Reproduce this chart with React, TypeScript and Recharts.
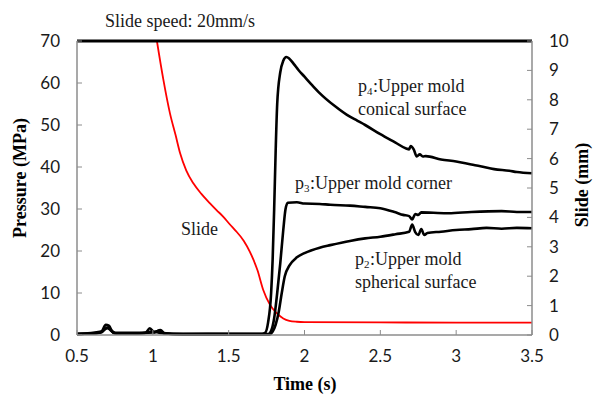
import React from "react";
import { LineChart, Line, XAxis, YAxis, ReferenceLine } from "recharts";

// Pressure p4 (upper mold conical surface)
const p4Time = [0.5, 0.6, 0.65, 0.7, 0.75, 0.9, 1.0, 1.05, 1.2, 1.5, 1.72, 1.74, 1.76, 1.78, 1.79, 1.8, 1.81, 1.82, 1.84, 1.86, 1.88, 1.9, 1.93, 1.96, 2.0, 2.05, 2.1, 2.2, 2.28, 2.35, 2.4, 2.5, 2.6, 2.67, 2.69, 2.7, 2.72, 2.74, 2.76, 2.78, 2.8, 2.9, 3.0, 3.1, 3.16, 3.25, 3.35, 3.4, 3.5];
const p4Values = [0.3, 0.3, 0.6, 1.6, 0.4, 0.3, 0.8, 0.5, 0.2, 0.3, 0.3, 0.5, 3, 10, 18, 30, 44, 55, 62.5, 65.3, 66.2, 65.8, 64.5, 63.1, 61.5, 59.5, 57.6, 54.5, 52.4, 51, 50, 47.8, 45.8, 44.4, 44.2, 45, 44.2, 42.5, 43, 42.5, 42.6, 41.8, 41.3, 40.6, 40.2, 39.5, 39.1, 38.8, 38.5];

// Pressure p3 (upper mold corner)
const p3Time = [0.5, 0.66, 0.69, 0.71, 0.74, 0.95, 0.98, 1.01, 1.05, 1.08, 1.76, 1.78, 1.8, 1.82, 1.84, 1.86, 1.875, 1.89, 1.95, 2.0, 2.1, 2.17, 2.3, 2.4, 2.5, 2.6, 2.65, 2.69, 2.71, 2.73, 2.75, 2.77, 2.85, 2.95, 3.1, 3.3, 3.4, 3.5];
const p3Values = [0.2, 0.8, 2.4, 2.2, 0.5, 0.5, 1.6, 0.6, 1.2, 0.3, 0.2, 1, 4, 10, 17, 25, 30, 31.5, 31.6, 31.3, 31.2, 31, 30.8, 30.5, 30.2, 29.2, 28.6, 28.3, 27.5, 28.8, 28.6, 29.2, 29.1, 29, 29.3, 29.5, 29.3, 29.3];

// Pressure p2 (upper mold spherical surface)
const p2Time = [0.5, 0.66, 0.7, 0.73, 0.76, 1.0, 1.04, 1.07, 1.2, 1.77, 1.79, 1.81, 1.83, 1.85, 1.87, 1.9, 1.95, 2.0, 2.1, 2.17, 2.3, 2.4, 2.5, 2.6, 2.69, 2.71, 2.73, 2.75, 2.77, 2.79, 2.81, 2.9, 3.0, 3.1, 3.2, 3.3, 3.4, 3.5];
const p2Values = [0.2, 0.6, 1.8, 1.0, 0.3, 0.6, 1.0, 0.4, 0.1, 0.1, 0.8, 2.5, 5.5, 10, 14, 16.5, 18.5, 19.5, 20.8, 21.4, 22.4, 23, 23.4, 24, 24.6, 26.3, 24.5, 23.8, 25.2, 23.8, 24.3, 24.6, 25, 25.2, 25.5, 25.3, 25.5, 25.4];

// Slide displacement (mm, right axis)
const slideTime = [1.0, 1.027, 1.07, 1.113, 1.15, 1.18, 1.22, 1.267, 1.32, 1.377, 1.42, 1.465, 1.51, 1.542, 1.6, 1.64, 1.69, 1.728, 1.77, 1.817, 1.86, 1.9, 1.95, 2.0, 2.5, 3.0, 3.5];
const slideValues = [10.9, 10, 8.67, 7.54, 6.8, 6.18, 5.6, 5.16, 4.8, 4.48, 4.25, 4.02, 3.75, 3.57, 3.2, 2.83, 2.2, 1.53, 1.05, 0.74, 0.56, 0.48, 0.45, 0.44, 0.43, 0.42, 0.42];

const timeTicks = [0.5, 1, 1.5, 2, 2.5, 3, 3.5];
const pressureTicks = [0, 10, 20, 30, 40, 50, 60, 70];
const slideTicks = [0, 1, 2, 3, 4, 5, 6, 7, 8, 9, 10];

const toRows = (ts: number[], vs: number[]) => ts.map((t, i) => ({ t, v: vs[i] }));
const p4Data = toRows(p4Time, p4Values);
const p3Data = toRows(p3Time, p3Values);
const p2Data = toRows(p2Time, p2Values);
const slideData = toRows(slideTime, slideValues);

const TICK_FONT = "Lato, 'Open Sans', sans-serif";
const SERIF = "'Liberation Serif', 'Times New Roman', serif";
const AXIS_GREY = "#8c8c8c";

const LeftTick = (props: any) => {
  const { x, y, payload } = props;
  return (
    <g>
      <line x1={x} x2={x + 5} y1={y} y2={y} stroke={AXIS_GREY} strokeWidth={1} />
      <text x={x - 17} y={y} dy={6} textAnchor="end" fontFamily={TICK_FONT} fontSize={17} fill="#1a1a1a">
        {payload.value}
      </text>
    </g>
  );
};

const RightTick = (props: any) => {
  const { x, y, payload } = props;
  return (
    <g>
      <line x1={x - 5} x2={x} y1={y} y2={y} stroke={AXIS_GREY} strokeWidth={1} />
      <text x={x + 17} y={y} dy={6} textAnchor="start" fontFamily={TICK_FONT} fontSize={17} fill="#1a1a1a">
        {payload.value}
      </text>
    </g>
  );
};

const BottomTick = (props: any) => {
  const { x, y, payload } = props;
  return (
    <g>
      <line x1={x} x2={x} y1={y - 5} y2={y} stroke={AXIS_GREY} strokeWidth={1} />
      <text x={x} y={y} dy={27} textAnchor="middle" fontFamily={TICK_FONT} fontSize={17} fill="#1a1a1a">
        {payload.value}
      </text>
    </g>
  );
};

// label with subscript: "p" + sub + rest, drawn as separate text runs
const SubLabel = ({ x, y, sub, rest }: { x: number; y: number; sub: string; rest: string }) => (
  <g>
    <text x={x} y={y}>p</text>
    <text x={x + 9} y={y + 3} fontSize={11}>{sub}</text>
    <text x={x + 15} y={y}>{rest}</text>
  </g>
);

export default function App() {
  return (
    <div style={{ position: "absolute", left: 0, top: 0, width: 593, height: 396, background: "#fff" }}>
      <LineChart width={593} height={396} data={p4Data} margin={{ top: 41, right: 0, bottom: 0, left: 0 }}>
        <XAxis
          dataKey="t"
          type="number"
          domain={[0.5, 3.5]}
          ticks={timeTicks}
          height={61}
          tickSize={0}
          tickMargin={0}
          tickLine={false}
          axisLine={{ stroke: AXIS_GREY, strokeWidth: 1.5 }}
          tick={<BottomTick />}
          allowDecimals
        />
        <YAxis
          yAxisId="left"
          orientation="left"
          type="number"
          domain={[0, 70]}
          ticks={pressureTicks}
          width={77}
          tickSize={0}
          tickMargin={0}
          tickLine={false}
          axisLine={{ stroke: AXIS_GREY, strokeWidth: 1.5 }}
          tick={<LeftTick />}
        />
        <YAxis
          yAxisId="right"
          orientation="right"
          type="number"
          domain={[0, 10]}
          ticks={slideTicks}
          width={61}
          allowDataOverflow
          tickSize={0}
          tickMargin={0}
          tickLine={false}
          axisLine={{ stroke: AXIS_GREY, strokeWidth: 1.5 }}
          tick={<RightTick />}
        />
        <Line yAxisId="right" data={slideData} dataKey="v" type="monotone" stroke="#ff0000" strokeWidth={1.8} dot={false} isAnimationActive={false} />
        <Line yAxisId="left" data={p2Data} dataKey="v" type="monotone" stroke="#000" strokeWidth={2.6} dot={false} isAnimationActive={false} />
        <Line yAxisId="left" data={p3Data} dataKey="v" type="monotone" stroke="#000" strokeWidth={2.6} dot={false} isAnimationActive={false} />
        <Line yAxisId="left" data={p4Data} dataKey="v" type="monotone" stroke="#000" strokeWidth={2.6} dot={false} isAnimationActive={false} />
        <ReferenceLine yAxisId="left" y={70} stroke="#000" strokeWidth={3} />
      </LineChart>
      <svg width={593} height={396} style={{ position: "absolute", left: 0, top: 0, pointerEvents: "none" }}>
        <g fontFamily={SERIF} fill="#1a1a1a" fontSize={18}>
          <text x={105} y={27}>Slide speed: 20mm/s</text>
          <SubLabel x={358} y={92} sub="4" rest=":Upper mold" />
          <text x={358} y={115}>conical surface</text>
          <SubLabel x={295} y={189} sub="3" rest=":Upper mold corner" />
          <SubLabel x={355} y={265} sub="2" rest=":Upper mold" />
          <text x={355} y={288}>spherical surface</text>
          <text x={181} y={235}>Slide</text>
        </g>
        <g fontFamily={SERIF} fill="#000" fontSize={18} fontWeight="bold">
          <text x={305} y={390} textAnchor="middle">Time (s)</text>
          <text x={0} y={0} textAnchor="middle" transform="translate(26,178) rotate(-90)">Pressure (MPa)</text>
          <text x={0} y={0} textAnchor="middle" transform="translate(588,185) rotate(-90)">Slide (mm)</text>
        </g>
      </svg>
    </div>
  );
}
